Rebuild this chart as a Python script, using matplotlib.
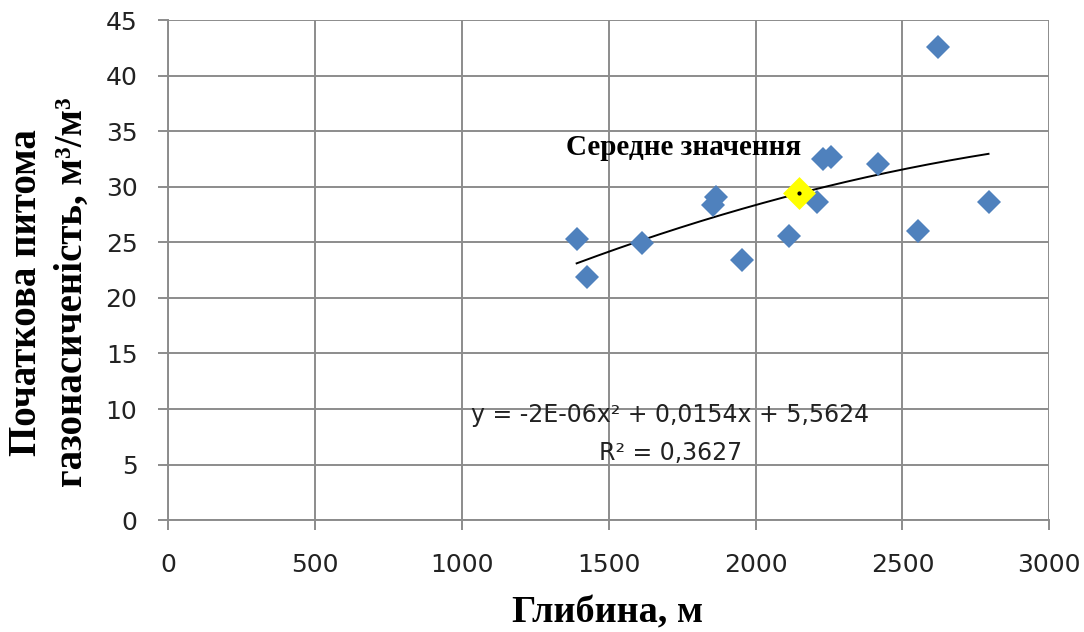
import matplotlib
matplotlib.use("Agg")
import matplotlib.pyplot as plt
import numpy as np

# depth (m) and initial specific gas content (m3/m3)
depth = [1391, 1425, 1613, 1855, 1865, 1953, 2115, 2208, 2231, 2256, 2418, 2554, 2620, 2793]
gas = [25.35, 21.9, 24.96, 28.4, 29.1, 23.46, 25.56, 28.65, 32.55, 32.7, 32.1, 26.04, 42.55, 28.6]

# mean value point
mean_depth = 2149
mean_gas = 29.46

# quadratic trend coefficients (as printed on the chart)
coef = [-2e-06, 0.0154, 5.5624]
eq_text = "y = -2E-06x² + 0,0154x + 5,5624"
r2_text = "R² = 0,3627"

x_ticks = [0, 500, 1000, 1500, 2000, 2500, 3000]
y_ticks = [0, 5, 10, 15, 20, 25, 30, 35, 40, 45]

serif = "Liberation Serif"
grid_col = "#8c8c8c"

fig = plt.figure(figsize=(10.84, 6.32), dpi=100)
ax = fig.add_axes([0.155, 0.177, 0.813, 0.791])

ax.set_xlim(0, 3000)
ax.set_ylim(0, 45)
ax.set_xticks(x_ticks)
ax.set_yticks(y_ticks)
ax.grid(True, color=grid_col, linewidth=1.4)
ax.set_axisbelow(True)
for side in ["top", "right"]:
    ax.spines[side].set_visible(False)
for side in ["left", "bottom"]:
    ax.spines[side].set_color(grid_col)
    ax.spines[side].set_linewidth(1.4)
ax.tick_params(length=7, width=1.4, color=grid_col, labelsize=18,
               labelcolor="#222222")
ax.tick_params(axis="y", pad=15)
ax.tick_params(axis="x", pad=17)

# trend line over the data range
xt = np.linspace(min(depth), max(depth), 200)
yt = np.polyval(coef, xt)
ax.plot(xt, yt, color="black", linewidth=1.4, zorder=3)

ax.plot(depth, gas, linestyle="none", marker="D", markersize=12.5,
        color="#4f81bd", markeredgewidth=0, zorder=4)
ax.plot([mean_depth], [mean_gas], linestyle="none", marker="D", markersize=14,
        markerfacecolor="#ffff00", markeredgecolor="#ffff00", markeredgewidth=2.5,
        zorder=5)
ax.plot([mean_depth], [mean_gas], linestyle="none", marker="o", markersize=2,
        color="black", zorder=6)

ax.text(1355, 32.85, "Середне значення", fontfamily=serif, fontweight="bold",
        fontsize=21, color="black", ha="left", va="baseline")

ax.text(1709, 8.82, eq_text, fontfamily="DejaVu Sans",
        fontsize=17, color="#222222", ha="center", va="baseline")
ax.text(1709, 5.4, r2_text, fontfamily="DejaVu Sans",
        fontsize=17, color="#222222", ha="center", va="baseline")

ax.set_xlabel("Глибина, м", fontfamily=serif, fontweight="bold", fontsize=27.5)
ax.xaxis.label.set_va("baseline")
ax.xaxis.set_label_coords(0.499, -0.204)

ax.set_ylabel("Початкова питома\nгазонасиченість, м³/м³", fontfamily=serif,
              fontweight="bold", fontsize=28, linespacing=1.3)
ax.yaxis.set_label_coords(-0.088, 0.456)

fig.savefig("out.png", dpi=100)
